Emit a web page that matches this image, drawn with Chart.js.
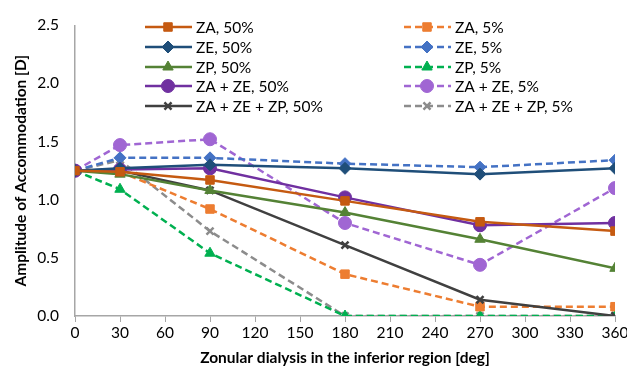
<!DOCTYPE html>
<html>
<head>
  <script src="https://cdn.jsdelivr.net/npm/chart.js@4.4.0/dist/chart.umd.min.js"></script>
  <style>
    html, body { margin: 0; padding: 0; background: #fff; }
    .wrap { width: 627px; height: 367px; }
  </style>
</head>
<body>
  <div class="wrap">
    <canvas id="myChart" width="627" height="367"></canvas>
  </div>

  <script>
    // zonular dialysis angle [deg]
    const degrees = [0, 30, 90, 180, 270, 360];

    // amplitude of accommodation [D], 50% stiffness
    const za50 = [1.25, 1.24, 1.17, 0.99, 0.81, 0.73];
    const ze50 = [1.25, 1.27, 1.30, 1.27, 1.22, 1.27];
    const zp50 = [1.25, 1.22, 1.08, 0.89, 0.66, 0.41];
    const zaze50 = [1.25, 1.26, 1.27, 1.02, 0.78, 0.80];
    const zazezp50 = [1.25, 1.25, 1.08, 0.61, 0.14, 0.0];

    // 5% stiffness
    const za5 = [1.25, 1.24, 0.92, 0.36, 0.08, 0.08];
    const ze5 = [1.25, 1.36, 1.36, 1.31, 1.28, 1.34];
    const zp5 = [1.25, 1.09, 0.54, 0.0, 0.0, 0.0];
    const zaze5 = [1.25, 1.47, 1.52, 0.80, 0.44, 1.10];
    const zazezp5 = [1.25, 1.34, 0.73, 0.0, 0.0, 0.0];

    const yTicks = [0, 0.5, 1.0, 1.5, 2.0, 2.5];

    const FONT = "Lato";

    function series(label, values, color, style, dashed) {
      return {
        label: label,
        data: values.map((v, i) => ({ x: degrees[i], y: v })),
        borderColor: color,
        backgroundColor: color,
        pointBackgroundColor: color,
        pointBorderColor: color,
        borderWidth: 2.5,
        borderDash: dashed ? [7, 4] : [],
        pointStyle: style,
        pointRadius: style === "circle" ? 6.5 : (style === "crossRot" ? 5 : 6),
        pointBorderWidth: style === "crossRot" ? 2.5 : 1,
        tension: 0,
        fill: false,
        dashed: dashed
      };
    }

    const datasets = [
      series("ZA, 50%", za50, "#C55A11", "rect", false),
      series("ZE, 50%", ze50, "#1F4E79", "rectRot", false),
      series("ZP, 50%", zp50, "#548235", "triangle", false),
      series("ZA + ZE, 50%", zaze50, "#7030A0", "circle", false),
      series("ZA + ZE + ZP, 50%", zazezp50, "#404040", "crossRot", false),
      series("ZA, 5%", za5, "#ED7D31", "rect", true),
      series("ZE, 5%", ze5, "#4472C4", "rectRot", true),
      series("ZP, 5%", zp5, "#00B050", "triangle", true),
      series("ZA + ZE, 5%", zaze5, "#A066D3", "circle", true),
      series("ZA + ZE + ZP, 5%", zazezp5, "#8C8C8C", "crossRot", true)
    ];

    // two-column legend inside the plot, like the original
    const legendPlugin = {
      id: "twoColLegend",
      afterDraw(chart) {
        const ctx = chart.ctx;
        const cols = [145, 404];
        const rows = [27, 47, 67, 86, 106];
        ctx.save();
        chart.data.datasets.forEach((ds, i) => {
          const col = i < 5 ? 0 : 1;
          const x = cols[col];
          const y = rows[i % 5];
          ctx.strokeStyle = ds.borderColor;
          ctx.fillStyle = ds.borderColor;
          ctx.lineWidth = 2.5;
          ctx.setLineDash(ds.dashed ? [7, 4] : []);
          ctx.beginPath();
          ctx.moveTo(x, y);
          ctx.lineTo(x + 47, y);
          ctx.stroke();
          ctx.setLineDash([]);
          ctx.lineWidth = ds.pointBorderWidth;
          Chart.helpers.drawPoint(ctx, {
            pointStyle: ds.pointStyle,
            radius: ds.pointRadius,
            rotation: 0,
            borderWidth: ds.pointBorderWidth
          }, x + 23, y);
          ctx.fillStyle = "#000";
          ctx.font = "15.5px " + FONT;
          ctx.textBaseline = "middle";
          ctx.textAlign = "left";
          ctx.fillText(ds.label, x + 51, y + 1);
        });
        ctx.restore();
      }
    };

    new Chart("myChart", {
      type: "line",
      data: { datasets: datasets },
      plugins: [legendPlugin],
      options: {
        responsive: false,
        animation: false,
        layout: { padding: { top: 24, right: 12, left: 0, bottom: 0 } },
        plugins: {
          legend: { display: false },
          tooltip: { enabled: false }
        },
        scales: {
          x: {
            type: "linear",
            min: 0,
            max: 360,
            afterFit(scale) {
              scale.height = 51;
              scale.paddingLeft = 0;
              scale.paddingRight = 0;
            },
            ticks: {
              stepSize: 30,
              color: "#000",
              font: { family: FONT, size: 15.5 },
              padding: 2
            },
            grid: { drawOnChartArea: false, drawTicks: true, tickLength: 6, color: "#A6A6A6" },
            border: { color: "#A6A6A6", width: 1.5 },
            title: {
              display: true,
              text: "Zonular dialysis in the inferior region [deg]",
              color: "#000",
              font: { family: FONT, size: 15.5, weight: "bold" },
              padding: { top: 2, bottom: 0 }
            }
          },
          y: {
            min: 0,
            max: 2.5,
            afterBuildTicks(scale) {
              scale.ticks = yTicks.map(v => ({ value: v }));
            },
            afterFit(scale) {
              scale.width = 75;
            },
            ticks: {
              color: "#000",
              font: { family: FONT, size: 15.5 },
              padding: 16,
              callback: v => Number(v).toFixed(1)
            },
            grid: { drawOnChartArea: false, drawTicks: false },
            border: { color: "#A6A6A6", width: 1.5 },
            title: {
              display: true,
              text: "Amplitude of Accommodation [D]",
              color: "#000",
              font: { family: FONT, size: 15.5, weight: "bold" },
              padding: { top: 12, bottom: 0 }
            }
          }
        }
      }
    });
  </script>
</body>
</html>
